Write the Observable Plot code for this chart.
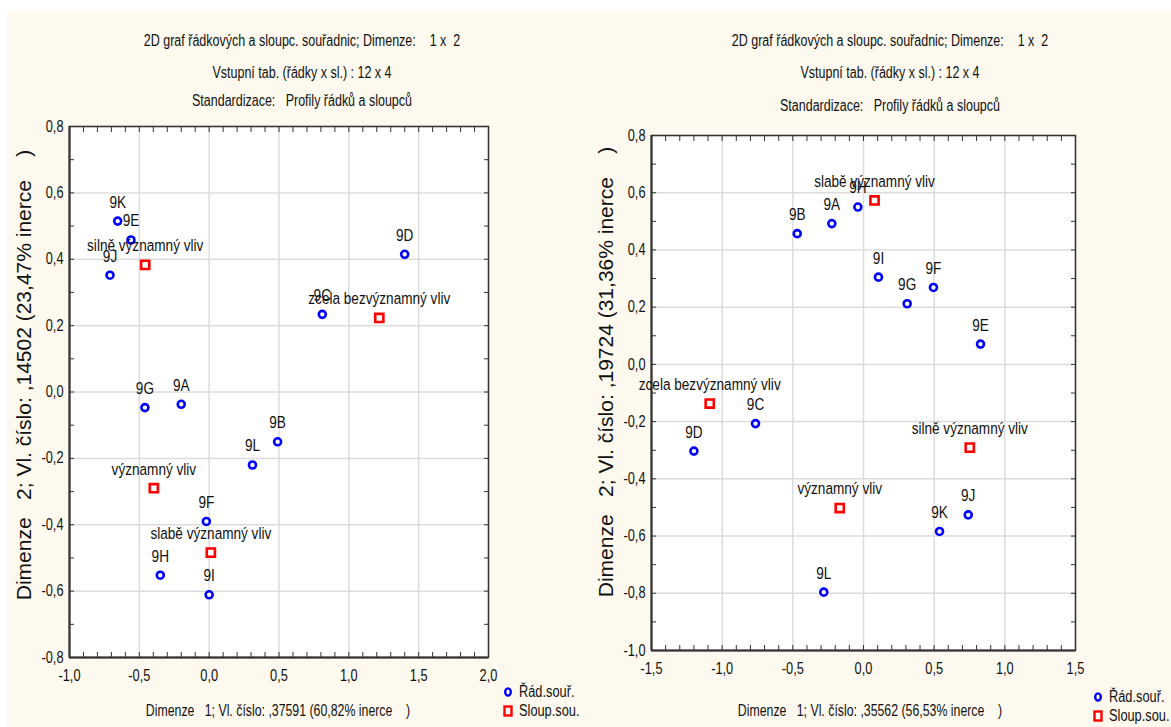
<!DOCTYPE html>
<html>
<head>
<meta charset="utf-8">
<script src="https://cdn.jsdelivr.net/npm/d3@7"></script>
<script src="https://cdn.jsdelivr.net/npm/@observablehq/plot@0.6"></script>
<style>
  html, body { margin: 0; padding: 0; background: #ffffff; }
  #page { position: relative; width: 1171px; height: 727px; overflow: hidden; }
  #cream { position: absolute; left: 7px; top: 11px; right: 0; bottom: 0; background: #fdf9ee; }
  .panel { position: absolute; top: 0; height: 727px; }
  .panel > svg { position: absolute; left: 0; top: 0; background: transparent; }
  .narrow { font-family: "Liberation Sans", Arial, sans-serif; }
  .title { position: absolute; font-size: 16px; line-height: 18px; color: #111; white-space: pre; transform: translateX(-50%) scaleX(0.78); }
  .ytitle { position: absolute; font-family: "Liberation Sans", Arial, sans-serif; font-size: 21px; line-height: 24px; color: #111; white-space: pre;
            transform: translate(-50%, -50%) rotate(-90deg); }
  .xtitle { position: absolute; font-size: 16px; line-height: 18px; color: #111; white-space: pre; transform: translateX(-50%) scaleX(0.77); }
  .legend { position: absolute; font-size: 16px; color: #111; }
  .legend div { display: flex; align-items: center; height: 19px; }
  .legend span { display: inline-block; transform: scaleX(0.8); transform-origin: left center; }
  .legend svg { position: static; margin-right: 6px; }
</style>
</head>
<body>
<div id="page"><div id="cream"></div></div>
<script>
// ---------------- Data: left chart ----------------
const leftRowLabels = ["9A","9B","9C","9D","9E","9F","9G","9H","9I","9J","9K","9L"];
const leftRowX = [-0.20, 0.49, 0.81, 1.40, -0.56, -0.02, -0.46, -0.35, 0.00, -0.71, -0.655, 0.31];
const leftRowY = [-0.037, -0.15, 0.234, 0.415, 0.458, -0.39, -0.047, -0.552, -0.611, 0.352, 0.515, -0.22];
const leftColLabels = ["silně významný vliv", "zcela bezvýznamný vliv", "významný vliv", "slabě významný vliv"];
const leftColX = [-0.458, 1.218, -0.396, 0.012];
const leftColY = [0.383, 0.223, -0.29, -0.484];

// ---------------- Data: right chart ----------------
const rightRowLabels = ["9A","9B","9C","9D","9E","9F","9G","9H","9I","9J","9K","9L"];
const rightRowX = [-0.224, -0.469, -0.764, -1.20, 0.828, 0.495, 0.309, -0.040, 0.106, 0.741, 0.538, -0.281];
const rightRowY = [0.492, 0.457, -0.207, -0.303, 0.071, 0.269, 0.212, 0.55, 0.305, -0.526, -0.584, -0.796];
const rightColLabels = ["slabě významný vliv", "zcela bezvýznamný vliv", "významný vliv", "silně významný vliv"];
const rightColX = [0.078, -1.088, -0.168, 0.752];
const rightColY = [0.573, -0.137, -0.502, -0.291];

// ---------------- Texts ----------------
const titleLines = [
  "2D graf řádkových a sloupc. souřadnic; Dimenze:    1 x  2",
  "Vstupní tab. (řádky x sl.) : 12 x 4",
  "Standardizace:   Profily řádků a sloupců"
];
const leftXTitle = "Dimenze   1; Vl. číslo: ,37591 (60,82% inerce    )";
const leftYTitle = "Dimenze   2; Vl. číslo: ,14502 (23,47% inerce    )";
const rightXTitle = "Dimenze   1; Vl. číslo: ,35562 (56,53% inerce    )";
const rightYTitle = "Dimenze   2; Vl. číslo: ,19724 (31,36% inerce    )";
const legendLabels = ["Řád.souř.", "Sloup.sou."];

// ticks
const leftXMajor = [-1, -0.5, 0, 0.5, 1, 1.5, 2];
const leftYMajor = [-0.8, -0.6, -0.4, -0.2, 0, 0.2, 0.4, 0.6, 0.8];
const rightXMajor = [-1.5, -1, -0.5, 0, 0.5, 1, 1.5];
const rightYMajor = [-1, -0.8, -0.6, -0.4, -0.2, 0, 0.2, 0.4, 0.6, 0.8];

const fmt = d => d3.format(".1f")(d).replace(".", ",").replace("−", "-");
const FONT = '"Liberation Sans", Arial, sans-serif';

function minorTicks(lo, hi) { return d3.range(Math.round(lo * 10), Math.round(hi * 10) + 1).map(v => v / 10); }

// narrow the glyphs of every text (Arial Narrow look) without moving their anchors
function narrowTexts(svg) {
  svg.querySelectorAll("text").forEach(t => {
    if (!t.textContent) return;
    const k = t.closest("g[data-narrow]") ? +t.closest("g[data-narrow]").getAttribute("data-narrow") : 0.8;
    const tr = t.getAttribute("transform");
    if (tr) {
      t.setAttribute("transform", tr + ` scale(${k},1)`);
    } else {
      const x = +(t.getAttribute("x") || 0), y = +(t.getAttribute("y") || 0);
      t.removeAttribute("x"); t.removeAttribute("y");
      t.setAttribute("transform", `translate(${x},${y}) scale(${k},1)`);
    }
  });
}

function makeChart(cfg) {
  const rows = cfg.rowLabels.map((l, i) => ({label: l, x: cfg.rowX[i], y: cfg.rowY[i]}));
  const cols = cfg.colLabels.map((l, i) => ({label: l, x: cfg.colX[i], y: cfg.colY[i]}));
  const xm = minorTicks(cfg.xDomain[0], cfg.xDomain[1]);
  const ym = minorTicks(cfg.yDomain[0], cfg.yDomain[1]);
  const svg = Plot.plot({
    width: cfg.width, height: 727,
    marginLeft: cfg.ml, marginRight: cfg.mr, marginTop: cfg.mt, marginBottom: cfg.mb,
    style: {fontFamily: FONT, fontSize: "15px", color: "#111", background: "transparent", overflow: "visible"},
    x: {domain: cfg.xDomain, label: null},
    y: {domain: cfg.yDomain, label: null},
    marks: [
      Plot.frame({fill: "white", stroke: "none"}),
      Plot.gridX(cfg.xMajor, {stroke: "#dcdcdc", strokeOpacity: 1, strokeWidth: 1.5}),
      Plot.gridY(cfg.yMajor, {stroke: "#dcdcdc", strokeOpacity: 1, strokeWidth: 1.5}),
      // inward minor ticks on all four sides
      Plot.axisX({anchor: "bottom", ticks: xm, tickSize: 5, dy: -5, tickFormat: () => "", stroke: "#333"}),
      Plot.axisX({anchor: "top", ticks: xm, tickSize: 5, dy: 5, tickFormat: () => "", stroke: "#333"}),
      Plot.axisY({anchor: "left", ticks: ym, tickSize: 5, dx: 5, tickFormat: () => "", stroke: "#333"}),
      Plot.axisY({anchor: "right", ticks: ym, tickSize: 5, dx: -5, tickFormat: () => "", stroke: "#333"}),
      // tick labels
      Plot.axisX({anchor: "bottom", ticks: cfg.xMajor, tickSize: 0, tickPadding: cfg.xPad, tickFormat: fmt, fontSize: 16, label: null}),
      Plot.axisY({anchor: "left", ticks: cfg.yMajor, tickSize: 0, tickPadding: 6, tickFormat: fmt, fontSize: 16, label: null}),
      Plot.frame({stroke: "#333", strokeWidth: 1.5}),
      Plot.ruleX([cfg.xDomain[0]], {stroke: "#333", strokeWidth: 2}),
      Plot.ruleY([cfg.yDomain[0]], {stroke: "#333", strokeWidth: 2}),
      // points
      Plot.dot(rows, {x: "x", y: "y", r: 3.5, stroke: "#0000ff", strokeWidth: 2.6, fill: "white"}),
      Plot.dot(cols, {x: "x", y: "y", symbol: "square", r: 4.6, stroke: "#ff0000", strokeWidth: 2.6, fill: "white"}),
      Plot.text(rows, {x: "x", y: "y", text: "label", dy: -19, fontSize: 17, fill: "#111", ariaLabel: "point-label"}),
      Plot.text(cols, {x: "x", y: "y", text: "label", dy: -19, fontSize: 17, fill: "#111", ariaLabel: "point-label"})
    ]
  });
  svg.querySelectorAll('g[aria-label="point-label"]').forEach(g => g.setAttribute("data-narrow", "0.72"));
  narrowTexts(svg);
  return svg;
}

function buildPanel(cfg) {
  const page = document.getElementById("page");
  const panel = document.createElement("div");
  panel.className = "panel";
  panel.style.left = cfg.left + "px";
  panel.style.width = cfg.width + "px";
  page.appendChild(panel);
  panel.appendChild(makeChart(cfg));
  titleLines.forEach((t, i) => {
    const d = document.createElement("div");
    d.className = "title narrow";
    d.textContent = t;
    d.style.left = cfg.titleX + "px";
    d.style.top = cfg.titleY[i] + "px";
    panel.appendChild(d);
  });
  const yt = document.createElement("div");
  yt.className = "ytitle";
  yt.textContent = cfg.yTitle;
  yt.style.left = cfg.yTitlePos[0] + "px";
  yt.style.top = cfg.yTitlePos[1] + "px";
  panel.appendChild(yt);
  const xt = document.createElement("div");
  xt.className = "xtitle narrow";
  xt.textContent = cfg.xTitle;
  xt.style.left = cfg.xTitlePos[0] + "px";
  xt.style.top = cfg.xTitlePos[1] + "px";
  panel.appendChild(xt);
  const lg = document.createElement("div");
  lg.className = "legend narrow";
  lg.style.left = cfg.legendPos[0] + "px";
  lg.style.top = cfg.legendPos[1] + "px";
  lg.innerHTML =
    `<div><svg width="10" height="12"><ellipse cx="5" cy="6" rx="2.8" ry="3.6" fill="white" stroke="#0000ff" stroke-width="2.4"/></svg><span>${legendLabels[0]}</span></div>` +
    `<div><svg width="10" height="12"><rect x="1.5" y="1.5" width="7" height="9" fill="white" stroke="#ff0000" stroke-width="2.4"/></svg><span>${legendLabels[1]}</span></div>`;
  panel.appendChild(lg);
}

buildPanel({
  left: 0, width: 585, ml: 69, mr: 97, mt: 126, mb: 70,
  xDomain: [-1, 2], yDomain: [-0.8, 0.8], xMajor: leftXMajor, yMajor: leftYMajor, xPad: 12,
  rowLabels: leftRowLabels, rowX: leftRowX, rowY: leftRowY,
  colLabels: leftColLabels, colX: leftColX, colY: leftColY,
  titleX: 302, titleY: [32, 64, 92],
  yTitle: leftYTitle, yTitlePos: [24, 375],
  xTitle: leftXTitle, xTitlePos: [278, 702],
  legendPos: [503, 682]
});
buildPanel({
  left: 585, width: 586, ml: 66, mr: 96, mt: 135, mb: 77,
  xDomain: [-1.5, 1.5], yDomain: [-1, 0.8], xMajor: rightXMajor, yMajor: rightYMajor, xPad: 12,
  rowLabels: rightRowLabels, rowX: rightRowX, rowY: rightRowY,
  colLabels: rightColLabels, colX: rightColX, colY: rightColY,
  titleX: 305, titleY: [32, 64, 97],
  yTitle: rightYTitle, yTitlePos: [21, 372],
  xTitle: rightXTitle, xTitlePos: [285, 702],
  legendPos: [508, 687]
});
</script>
</body>
</html>
